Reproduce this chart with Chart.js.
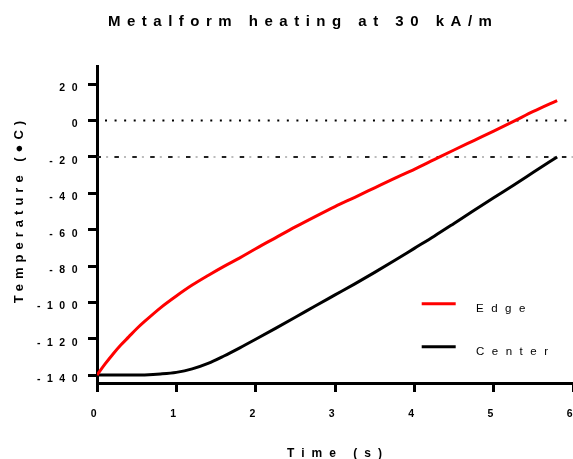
<!DOCTYPE html>
<html>
<head>
<meta charset="utf-8">
<script src="https://cdn.jsdelivr.net/npm/chart.js@4/dist/chart.umd.min.js"></script>
<style>
  html, body { margin: 0; padding: 0; background: #fff; }
  canvas { display: block; }
</style>
</head>
<body>
<canvas id="chart" width="573" height="459"></canvas>
<script>
// Heating curves: time in seconds, temperatures in °C
const timeS = [0, 0.1, 0.2, 0.3, 0.4, 0.5, 0.6, 0.8, 1.0, 1.2, 1.4, 1.6, 1.8, 2.0, 2.25, 2.5, 2.75, 3.0, 3.25, 3.5, 3.75, 4.0, 4.25, 4.5, 4.75, 5.0, 5.25, 5.5, 5.8];
const edgeTemp = [-140, -134, -128.5, -123.5, -119, -114.5, -110.5, -103, -96.5, -90.5, -85.2, -80.2, -75.5, -70.5, -64.5, -58.5, -52.8, -47.3, -42.2, -37, -31.8, -26.8, -21.5, -16.2, -11, -5.8, -0.5, 5, 11];
const centerTemp = [-140, -140, -140, -140, -140, -140, -139.9, -139.4, -138.5, -136.6, -133.6, -129.5, -125, -120.3, -114.3, -108.2, -102, -95.9, -89.8, -83.5, -77, -70.3, -63.6, -56.6, -49.5, -42.5, -35.6, -28.5, -20];

// Horizontal reference levels (°C)
const zeroLevel = 0;
const targetLevel = -20;

// Axis ticks and ranges
const xTicks = [0, 1, 2, 3, 4, 5, 6];
const yTicks = [20, 0, -20, -40, -60, -80, -100, -120, -140];
const xRange = [0, 6];
const yRange = [-144.35, 30];

const titleText = 'Metalform heating at 30 kA/m';
const xTitle = 'Time (s)';
const yTitle = 'Temperature (\u25CFC)';
const seriesNames = ['Edge', 'Center'];

const FONT = '"Liberation Sans", Arial, sans-serif';

function pts(xs, ys) { return xs.map((x, i) => ({ x: x, y: ys[i] })); }
function level(v) { return [{ x: xRange[0], y: v }, { x: xRange[1], y: v }]; }

function drawSpaced(ctx, text, x, y, font, spacing, align, angle) {
  ctx.save();
  ctx.font = font;
  ctx.letterSpacing = spacing;
  ctx.fillStyle = '#000';
  ctx.textAlign = align;
  ctx.textBaseline = 'alphabetic';
  ctx.translate(x, y);
  if (angle) ctx.rotate(angle);
  ctx.fillText(text, 0, 0);
  ctx.restore();
}

// plot frame: left edge of the y axis, right edge of the x axis
const frame = { left: 97, right: 573, top: 66, bottom: 383 };

const decorations = {
  id: 'decorations',
  beforeDraw(chart) {
    // spaced-out tick labels
    chart.ctx.letterSpacing = '6.5px';
  },
  afterDraw(chart) {
    const ctx = chart.ctx;
    drawSpaced(ctx, titleText, 108, 26, 'bold 15px ' + FONT, '6.5px', 'left');
    drawSpaced(ctx, xTitle, 338, 456.7, 'bold 12px ' + FONT, '7px', 'center');
    drawSpaced(ctx, yTitle, 23.3, 209.5, 'bold 13px ' + FONT, '5px', 'center', -Math.PI / 2);

    // legend
    const rows = [{ y: 303.7, base: 312.3 }, { y: 346.8, base: 355 }];
    rows.forEach((r, i) => {
      const ds = chart.data.datasets[i];
      ctx.save();
      ctx.strokeStyle = ds.borderColor;
      ctx.lineWidth = 3;
      ctx.beginPath();
      ctx.moveTo(421.7, r.y);
      ctx.lineTo(455.7, r.y);
      ctx.stroke();
      ctx.restore();
      drawSpaced(ctx, seriesNames[i], 476, r.base, '11.5px ' + FONT, '7.5px', 'left');
    });
    ctx.letterSpacing = '6.5px';
  }
};

const tickFont = { family: FONT, size: 10.5, weight: 'bold' };

function fitX(s) {
  s.height = 459 - frame.bottom;
  s.paddingLeft = 0; s.paddingRight = 0; s.paddingTop = 0; s.paddingBottom = 0;
}
function fitY(s) {
  s.width = frame.left;
  s.paddingLeft = 0; s.paddingRight = 0; s.paddingTop = 0; s.paddingBottom = 0;
}

new Chart(document.getElementById('chart'), {
  type: 'line',
  data: {
    datasets: [
      { label: seriesNames[0], data: pts(timeS, edgeTemp), borderColor: '#ff0000', borderWidth: 3, pointRadius: 0, cubicInterpolationMode: 'monotone', fill: false },
      { label: seriesNames[1], data: pts(timeS, centerTemp), borderColor: '#000000', borderWidth: 3, pointRadius: 0, cubicInterpolationMode: 'monotone', fill: false },
      { label: 'zero', data: level(zeroLevel), borderColor: '#000000', borderWidth: 2, pointRadius: 0, borderDash: [2, 7.57], borderDashOffset: 1.57 },
      { label: 'target', data: level(targetLevel), borderColor: '#222222', borderWidth: 2, pointRadius: 0, borderDash: [4.5, 13.4], borderDashOffset: 0.5 },
      { label: 'target-dots', data: level(targetLevel), borderColor: '#bbbbbb', borderWidth: 2, pointRadius: 0, borderDash: [2, 15.9], borderDashOffset: 8.8 }
    ]
  },
  options: {
    responsive: false,
    animation: false,
    devicePixelRatio: 1,
    layout: { autoPadding: false, padding: { top: frame.top, left: 0, right: 573 - frame.right, bottom: 0 } },
    plugins: { legend: { display: false }, tooltip: { enabled: false }, title: { display: false } },
    scales: {
      x: {
        type: 'linear',
        min: xRange[0], max: xRange[1],
        afterBuildTicks: s => { s.ticks = xTicks.map(v => ({ value: v })); },
        afterFit: fitX,
        ticks: { autoSkip: false, maxRotation: 0, minRotation: 0, padding: 16, color: '#000', font: tickFont },
        grid: { drawOnChartArea: false, tickLength: 9, tickWidth: 3, tickColor: '#000', color: '#000' },
        border: { color: '#000', width: 3 }
      },
      y: {
        type: 'linear',
        min: yRange[0], max: yRange[1],
        afterBuildTicks: s => { s.ticks = yTicks.map(v => ({ value: v })); },
        afterFit: fitY,
        ticks: { padding: 4, labelOffset: 4, color: '#000', font: tickFont },
        grid: { drawOnChartArea: false, tickLength: 9, tickWidth: 3, tickColor: '#000', color: '#000' },
        border: { color: '#000', width: 3 }
      }
    }
  },
  plugins: [decorations]
});
</script>
</body>
</html>
